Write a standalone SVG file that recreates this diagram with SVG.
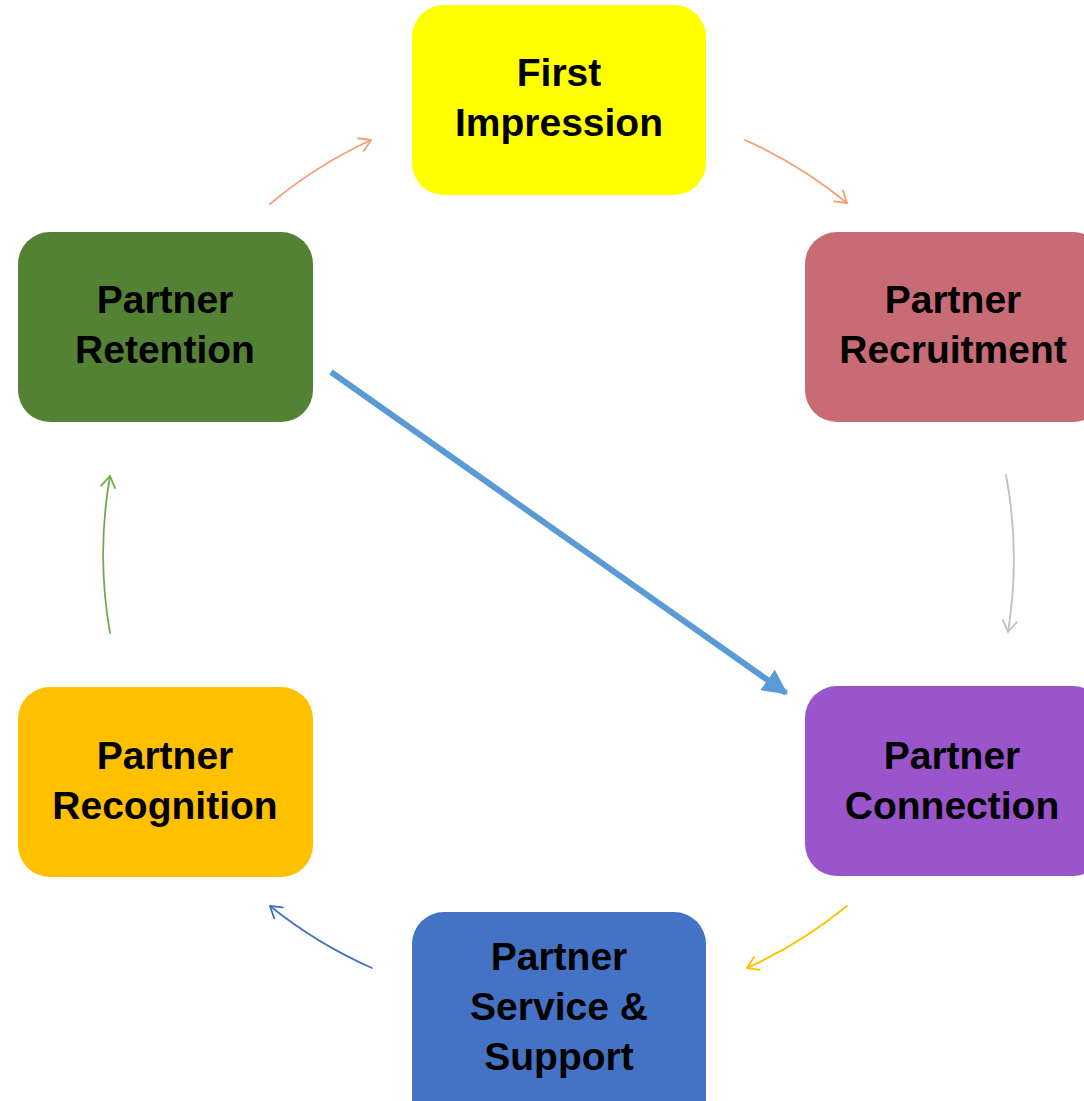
<svg xmlns="http://www.w3.org/2000/svg" width="1084" height="1101" viewBox="0 0 1084 1101">
<style>
.box{stroke:none}
.lbl{font-family:"Liberation Sans",Arial,sans-serif;font-weight:bold;font-size:39px;fill:#000;text-anchor:middle}
.arc{fill:none;stroke-width:1.8;stroke-linecap:round}
</style>
<defs>
<marker id="chev-orange" viewBox="0 0 16 16" refX="14" refY="8" markerWidth="16" markerHeight="16" markerUnits="userSpaceOnUse" orient="auto"><path d="M3 1 L14 8 L3 15" fill="none" stroke="#F4A070" stroke-width="1.8" stroke-linecap="round" stroke-linejoin="round"/></marker>
<marker id="chev-grey" viewBox="0 0 16 16" refX="14" refY="8" markerWidth="16" markerHeight="16" markerUnits="userSpaceOnUse" orient="auto"><path d="M3 1 L14 8 L3 15" fill="none" stroke="#BFBFBF" stroke-width="1.8" stroke-linecap="round" stroke-linejoin="round"/></marker>
<marker id="chev-yellow" viewBox="0 0 16 16" refX="14" refY="8" markerWidth="16" markerHeight="16" markerUnits="userSpaceOnUse" orient="auto"><path d="M3 1 L14 8 L3 15" fill="none" stroke="#FFC000" stroke-width="1.8" stroke-linecap="round" stroke-linejoin="round"/></marker>
<marker id="chev-blue" viewBox="0 0 16 16" refX="14" refY="8" markerWidth="16" markerHeight="16" markerUnits="userSpaceOnUse" orient="auto"><path d="M3 1 L14 8 L3 15" fill="none" stroke="#4472C4" stroke-width="1.8" stroke-linecap="round" stroke-linejoin="round"/></marker>
<marker id="chev-green" viewBox="0 0 16 16" refX="14" refY="8" markerWidth="16" markerHeight="16" markerUnits="userSpaceOnUse" orient="auto"><path d="M3 1 L14 8 L3 15" fill="none" stroke="#70AD47" stroke-width="1.8" stroke-linecap="round" stroke-linejoin="round"/></marker>
<marker id="tri-blue" viewBox="0 0 10 10" refX="9" refY="5" markerWidth="4.2" markerHeight="4.2" orient="auto"><path d="M0 0 L10 5 L0 10 Z" fill="#5B9BD5"/></marker>
</defs>
<rect width="1084" height="1101" fill="#FFFFFF"/>
<g id="connectors">
<path class="arc" stroke="#F4A070" d="M270 204 A455 455 0 0 1 371 140" marker-end="url(#chev-orange)"/>
<path class="arc" stroke="#F4A070" d="M745 140 A455 455 0 0 1 847 203" marker-end="url(#chev-orange)"/>
<path class="arc" stroke="#BFBFBF" d="M1006 475 A455 455 0 0 1 1008 632" marker-end="url(#chev-grey)"/>
<path class="arc" stroke="#FFC000" d="M847 906 A455 455 0 0 1 747 968" marker-end="url(#chev-yellow)"/>
<path class="arc" stroke="#4472C4" d="M372 968 A455 455 0 0 1 270 906" marker-end="url(#chev-blue)"/>
<path class="arc" stroke="#70AD47" d="M110 633 A455 455 0 0 1 110 476" marker-end="url(#chev-green)"/>
<line x1="331" y1="372" x2="786" y2="693" stroke="#5B9BD5" stroke-width="6" marker-end="url(#tri-blue)"/>
</g>
<g id="node-first-impression">
<rect class="box" x="412" y="5" width="294" height="190" rx="32" fill="#FFFF00"/>
<text class="lbl" x="559" y="86">First</text>
<text class="lbl" x="559" y="136">Impression</text>
</g>
<g id="node-partner-recruitment">
<rect class="box" x="805" y="232" width="300" height="190" rx="32" fill="#C96B74"/>
<text class="lbl" x="953" y="313">Partner</text>
<text class="lbl" x="953" y="363">Recruitment</text>
</g>
<g id="node-partner-connection">
<rect class="box" x="805" y="686" width="300" height="190" rx="32" fill="#9A55CD"/>
<text class="lbl" x="952" y="769">Partner</text>
<text class="lbl" x="952" y="819">Connection</text>
</g>
<g id="node-partner-service-support">
<rect class="box" x="412" y="912" width="294" height="220" rx="32" fill="#4472C4"/>
<text class="lbl" x="559" y="970">Partner</text>
<text class="lbl" x="559" y="1020">Service &amp;</text>
<text class="lbl" x="559" y="1070">Support</text>
</g>
<g id="node-partner-recognition">
<rect class="box" x="18" y="687" width="295" height="190" rx="32" fill="#FFC000"/>
<text class="lbl" x="165" y="769">Partner</text>
<text class="lbl" x="165" y="819">Recognition</text>
</g>
<g id="node-partner-retention">
<rect class="box" x="18" y="232" width="295" height="190" rx="32" fill="#548235"/>
<text class="lbl" x="165" y="313">Partner</text>
<text class="lbl" x="165" y="363">Retention</text>
</g>
</svg>
